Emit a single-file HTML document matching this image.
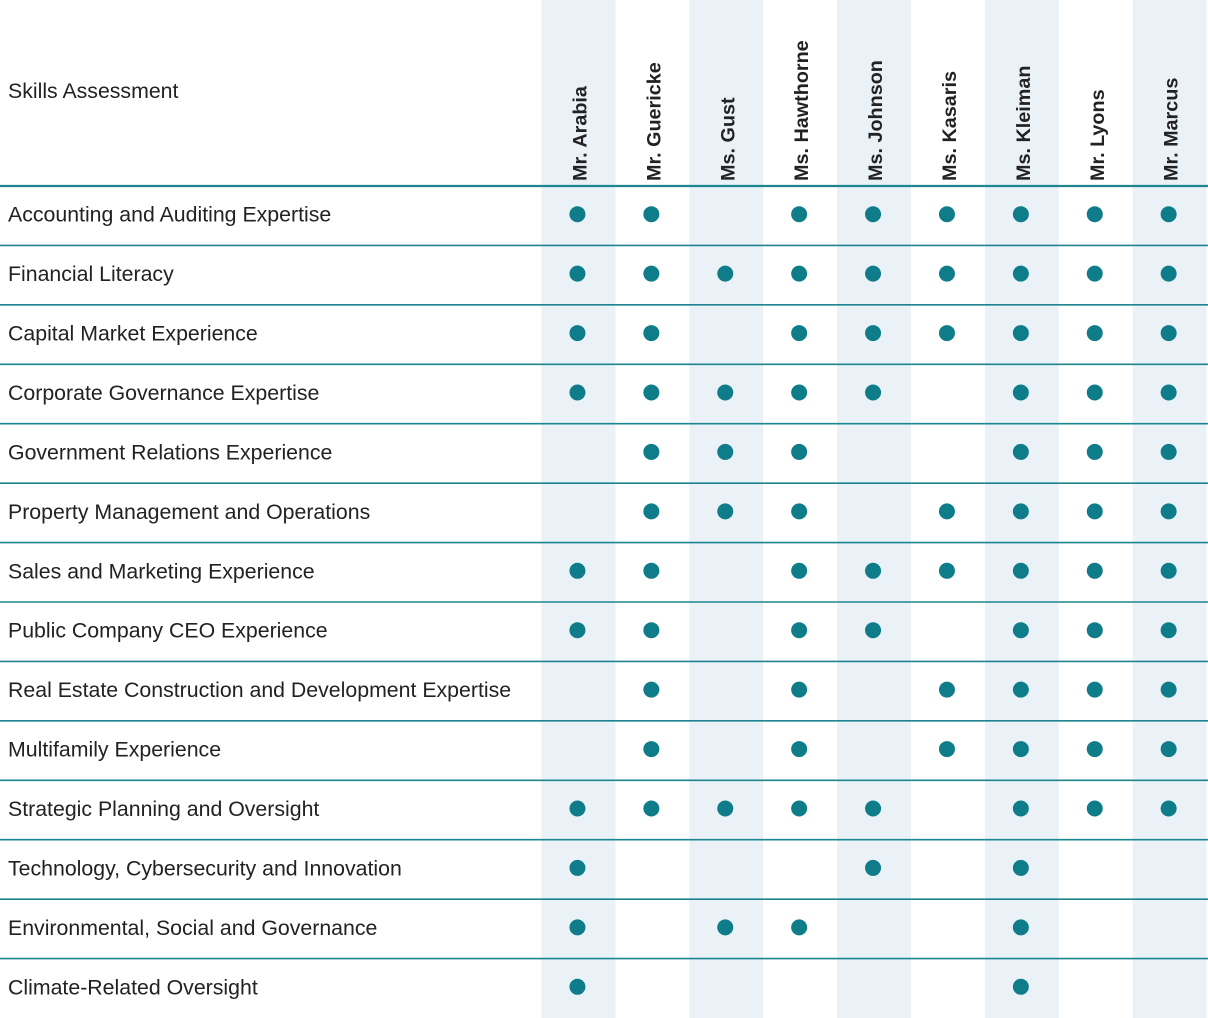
<!DOCTYPE html>
<html><head><meta charset="utf-8"><style>
html,body{margin:0;padding:0;background:#fff;width:1208px;height:1018px;overflow:hidden}
svg{display:block;font-family:"Liberation Sans",sans-serif}
</style></head><body>
<svg id="chart" width="1208" height="1018" viewBox="0 0 1208 1018" xmlns="http://www.w3.org/2000/svg"></svg>
<script>
const directors = ["Mr. Arabia","Mr. Guericke","Ms. Gust","Ms. Hawthorne","Ms. Johnson","Ms. Kasaris","Ms. Kleiman","Mr. Lyons","Mr. Marcus"];
const skills = ["Accounting and Auditing Expertise","Financial Literacy","Capital Market Experience","Corporate Governance Expertise","Government Relations Experience","Property Management and Operations","Sales and Marketing Experience","Public Company CEO Experience","Real Estate Construction and Development Expertise","Multifamily Experience","Strategic Planning and Oversight","Technology, Cybersecurity and Innovation","Environmental, Social and Governance","Climate-Related Oversight"];
const matrix = [
[1,1,0,1,1,1,1,1,1],
[1,1,1,1,1,1,1,1,1],
[1,1,0,1,1,1,1,1,1],
[1,1,1,1,1,0,1,1,1],
[0,1,1,1,0,0,1,1,1],
[0,1,1,1,0,1,1,1,1],
[1,1,0,1,1,1,1,1,1],
[1,1,0,1,1,0,1,1,1],
[0,1,0,1,0,1,1,1,1],
[0,1,0,1,0,1,1,1,1],
[1,1,1,1,1,0,1,1,1],
[1,0,0,0,1,0,1,0,0],
[1,0,1,1,0,0,1,0,0],
[1,0,0,0,0,0,1,0,0]
];
const NS="http://www.w3.org/2000/svg";
const svg=document.getElementById('chart');
const colX=i=>541.5+i*73.9;
const colW=73.9;
const headerBottom=186;
const rowH=(1018-headerBottom)/skills.length;
const rowY=j=>headerBottom+j*rowH;
function mk(tag,attrs){const e=document.createElementNS(NS,tag);for(const k in attrs)e.setAttribute(k,attrs[k]);svg.appendChild(e);return e;}
directors.forEach((d,i)=>{if(i%2===0){
 const r=mk('rect',{x:colX(i),y:0,width:colW,height:1018,fill:'#eaf2f8'});
 
 
}});
const t=mk('text',{x:8,y:98,'font-size':21.3,fill:'#222'});t.textContent='Skills Assessment';


directors.forEach((d,i)=>{
 const cx=colX(i)+colW/2+8;
 const h=mk('text',{x:0,y:0,'font-size':19.8,'font-weight':'bold',fill:'#222',transform:`translate(${cx},181) rotate(-90)`});
 h.textContent=d;
 
 
});
const hl=mk('line',{x1:0,x2:1208,y1:headerBottom,y2:headerBottom,stroke:'#1e8590','stroke-width':2.2});


skills.forEach((s,j)=>{
 const y0=rowY(j);
 if(j>0){const l=mk('line',{x1:0,x2:1208,y1:y0,y2:y0,stroke:'#1e8590','stroke-width':1.6});
  
  }
 const lab=mk('text',{x:8,y:y0+rowH/2+6,'font-size':21.3,fill:'#222'});
 lab.textContent=s;
 
 
 matrix[j].forEach((v,i)=>{if(v){
  const c=mk('circle',{cx:colX(i)+colW/2-1,cy:y0+rowH/2-1.5,r:8,fill:'#0e7d89'});
  
  
 }});
});
</script>
</body></html>
